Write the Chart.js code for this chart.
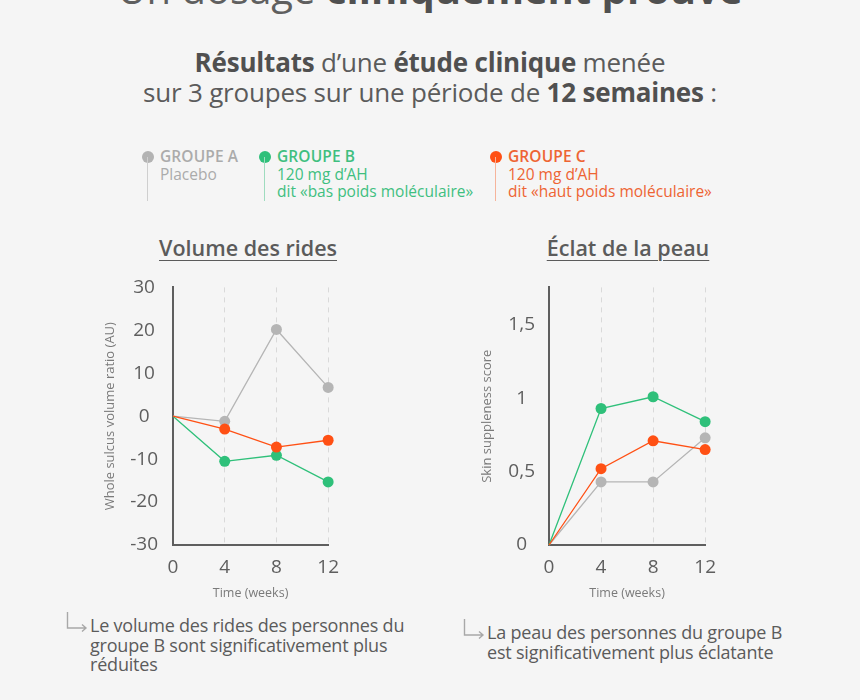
<!DOCTYPE html>
<html lang="fr">
<head>
<meta charset="utf-8">
<title>Un dosage cliniquement prouvé</title>
<script src="https://cdn.jsdelivr.net/npm/chart.js@4.4.1/dist/chart.umd.min.js"></script>
<style>
  html, body { margin: 0; padding: 0; }
  body {
    width: 860px; height: 700px; overflow: hidden; position: relative;
    background: #f5f5f5; color: #5b5b5b; font-family: "Open Sans", Lato, sans-serif;
  }
  .abs { position: absolute; white-space: nowrap; }
  .headline { left: 0; width: 860px; text-align: center; top: -36px; font-size: 40px; line-height: 50px; color: #5f5f5f; }
  .sub { left: 0; width: 860px; text-align: center; top: 47px; font-size: 26px; line-height: 30px; color: #5b5b5b; letter-spacing: -0.2px; }
  .sub b, .headline b { color: #505050; font-weight: 700; }
  .grp { font-size: 15.5px; line-height: 17.5px; top: 148px; }
  .grp b { font-weight: 600; letter-spacing: 0.1px; }
  .dot { position: absolute; width: 12px; height: 12px; border-radius: 50%; top: 151px; }
  .stem { position: absolute; width: 1px; top: 157px; height: 44px; }
  .ctitle { top: 233px; font-size: 21.5px; font-weight: 600; text-decoration: underline; text-underline-offset: 4px; text-decoration-thickness: 1px; color: #5b5b5b; transform: translateX(-50%); }
  .note { font-size: 18px; line-height: 19.5px; color: #5b5b5b; letter-spacing: -0.2px; }
  .arrow { position: absolute; }
  .wrap { position: absolute; }
</style>
</head>
<body>

<div class="abs headline">Un dosage <b>cliniquement prouvé</b></div>
<div class="abs sub"><b>Résultats</b> d’une <b>étude clinique</b> menée<br>sur 3 groupes sur une période de <b>12 semaines</b> :</div>

<div class="dot" style="left:142px; background:#b3b3b3"></div>
<div class="stem" style="left:147px; background:#cfcfcf"></div>
<div class="abs grp" style="left:160px; color:#ababab"><b>GROUPE A</b><br>Placebo</div>

<div class="dot" style="left:259px; background:#2fc07a"></div>
<div class="stem" style="left:264px; background:#9fdcbf"></div>
<div class="abs grp" style="left:277px; color:#3fbf80"><b>GROUPE B</b><br>120 mg d’AH<br>dit «bas poids moléculaire»</div>

<div class="dot" style="left:490px; background:#ff5014"></div>
<div class="stem" style="left:495px; background:#f6b49b"></div>
<div class="abs grp" style="left:508px; color:#ee6433"><b>GROUPE C</b><br>120 mg d’AH<br>dit «haut poids moléculaire»</div>

<div class="abs ctitle" style="left:248px">Volume des rides</div>
<div class="abs ctitle" style="left:628px">Éclat de la peau</div>

<div class="wrap" id="ridesWrap"></div>
<div class="wrap" id="eclatWrap"></div>

<svg class="arrow" style="left:66px; top:612px" width="24" height="20" viewBox="0 0 24 20">
  <path d="M1.5 0 V16 H20 M16 12.5 L20 16 L16 19.5" fill="none" stroke="#a8a8a8" stroke-width="1.4"/>
</svg>
<div class="abs note" style="left:90px; top:616px">Le volume des rides des personnes du<br>groupe B sont significativement plus<br>réduites</div>
<svg class="arrow" style="left:463px; top:619px" width="24" height="20" viewBox="0 0 24 20">
  <path d="M1.5 0 V16 H20 M16 12.5 L20 16 L16 19.5" fill="none" stroke="#a8a8a8" stroke-width="1.4"/>
</svg>
<div class="abs note" style="left:487px; top:623px">La peau des personnes du groupe B<br>est significativement plus éclatante</div>

<script>
// semaines de mesure
const weeks = [0, 4, 8, 12];
const xTicks = [0, 4, 8, 12];

// Volume des rides (AU)
const ridesA = [0, -1.2, 20.2, 6.7];
const ridesB = [0, -10.5, -9.1, -15.3];
const ridesC = [0, -3.0, -7.2, -5.6];
const ridesTicks = [-30, -20, -10, 0, 10, 20, 30];
const ridesTickLabels = ['-30', '-20', '-10', '0', '10', '20', '30'];

// Eclat de la peau (score)
const eclatA = [0, 0.43, 0.43, 0.73];
const eclatB = [0, 0.93, 1.01, 0.84];
const eclatC = [0, 0.52, 0.71, 0.65];
const eclatTicks = [0, 0.5, 1, 1.5];
const eclatTickLabels = ['0', '0,5', '1', '1,5'];

const GRAY = '#b5b5b5';
const GREEN = '#2fc07a';
const ORANGE = '#ff5014';
const AXIS = '#5e5e5e';
const FONT = 'Open Sans';

const toPoints = (values) => weeks.map((w, i) => ({ x: w, y: values[i] }));

const makeDataset = (label, values, color, order) => ({
    label: label,
    data: toPoints(values),
    borderColor: color,
    backgroundColor: color,
    pointBackgroundColor: color,
    pointBorderWidth: 0,
    pointRadius: values.map((v, i) => i === 0 ? 0 : 5.5),
    borderWidth: 1.3,
    tension: 0,
    clip: false,
    order: order,
});

const buildConfig = (series, yMin, yMax, yTicks, yLabels, yTitle, yTitlePad, yTickPad) => () => ({
    type: 'line',
    data: {
        datasets: [
            makeDataset('Groupe A', series[0], GRAY, 3),
            makeDataset('Groupe B', series[1], GREEN, 2),
            makeDataset('Groupe C', series[2], ORANGE, 1),
        ],
    },
    options: {
        responsive: false,
        maintainAspectRatio: false,
        animation: false,
        layout: { padding: 0 },
        plugins: { legend: { display: false }, tooltip: { enabled: false } },
        scales: {
            x: {
                type: 'linear',
                min: 0,
                max: 12,
                afterBuildTicks: (scale) => { scale.ticks = xTicks.map(v => ({ value: v })); },
                afterFit: (scale) => { scale.height = 60; },
                ticks: { color: AXIS, font: { size: 19, family: FONT }, padding: 11, maxRotation: 0 },
                grid: {
                    drawTicks: false,
                    lineWidth: 1,
                    color: (ctx) => ctx.tick && ctx.tick.value === 0 ? 'rgba(0,0,0,0)' : '#d9d9d9',
                },
                border: { color: AXIS, width: 2, dash: [5, 5] },
                title: { display: true, text: 'Time (weeks)', color: '#7a7a7a', font: { size: 12.5, family: FONT }, padding: { top: 0, bottom: 4 } },
            },
            y: {
                min: yMin,
                max: yMax,
                afterBuildTicks: (scale) => { scale.ticks = yTicks.map(v => ({ value: v })); },
                afterFit: (scale) => { scale.width = 80; },
                ticks: {
                    color: AXIS,
                    font: { size: 19, family: FONT },
                    padding: yTickPad,
                    crossAlign: 'center',
                    callback: (value) => yLabels[yTicks.indexOf(value)],
                },
                grid: { display: false, drawTicks: false },
                border: { color: AXIS, width: 2 },
                title: { display: true, text: yTitle, color: '#7a7a7a', font: { size: 13, family: FONT }, padding: { top: yTitlePad, bottom: 0 } },
            },
        },
    },
});

// pose le graphique pour que la zone de tracé tombe sur la cible
const placeChart = (wrapId, config, target) => {
    const wrap = document.getElementById(wrapId);
    let w = 260, h = 340, chart = null;
    for (let i = 0; i < 4; i++) {
        if (chart) chart.destroy();
        wrap.innerHTML = '';
        const canvas = document.createElement('canvas');
        canvas.width = w; canvas.height = h;
        canvas.style.width = w + 'px'; canvas.style.height = h + 'px';
        wrap.style.width = w + 'px'; wrap.style.height = h + 'px';
        wrap.appendChild(canvas);
        chart = new Chart(canvas, config());
        const a = chart.chartArea;
        const dw = (target.right - target.left) - (a.right - a.left);
        const dh = (target.bottom - target.top) - (a.bottom - a.top);
        if (Math.abs(dw) < 0.5 && Math.abs(dh) < 0.5) break;
        w = Math.round(w + dw); h = Math.round(h + dh);
    }
    wrap.style.left = (target.left - chart.chartArea.left) + 'px';
    wrap.style.top = (target.top - chart.chartArea.top) + 'px';
    return chart;
};

placeChart('ridesWrap',
    buildConfig([ridesA, ridesB, ridesC], -30, 30, ridesTicks, ridesTickLabels, 'Whole sulcus volume ratio (AU)', 9, 15),
    { left: 173, right: 328, top: 287, bottom: 545 });

placeChart('eclatWrap',
    buildConfig([eclatA, eclatB, eclatC], 0, 1.755, eclatTicks, eclatTickLabels, 'Skin suppleness score', 10, 14),
    { left: 549, right: 705, top: 287, bottom: 545 });
</script>
</body>
</html>
